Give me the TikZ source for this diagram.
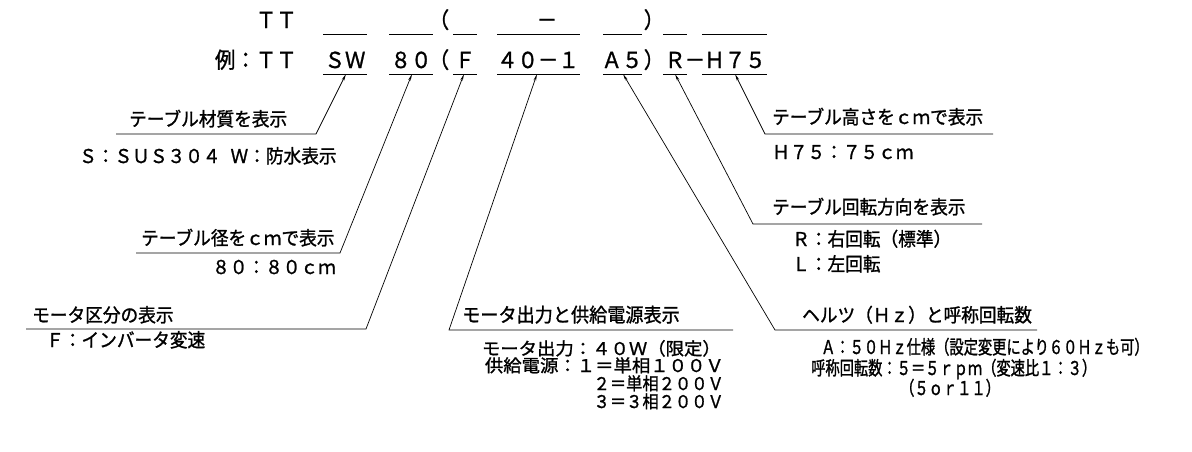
\documentclass[tikz,border=0pt]{standalone}
\usepackage{fontspec}
\setmainfont{Noto Sans CJK JP}[CharacterWidth=Full, FakeStretch=0.93, FakeBold=1.2]
\newfontfamily\narrowfont{Noto Sans CJK JP}[CharacterWidth=Full, FakeStretch=0.75, FakeBold=1.2]
\newfontfamily\widefont{Noto Sans CJK JP}[CharacterWidth=Full, FakeStretch=1.05, FakeBold=1.2]
\usetikzlibrary{positioning}
\usetikzlibrary{arrows.meta}

\begin{document}
\begin{tikzpicture}[x=1pt, y=-1pt,
    code/.style={inner sep=0pt, anchor=base, font=\fontsize{22}{24}\selectfont},
    txt/.style={inner sep=0pt, anchor=base west, font=\fontsize{19}{21}\selectfont},
    small/.style={inner sep=0pt, anchor=base east, font=\fontsize{17.5}{19}\selectfont},
    wide/.style={small, font=\widefont\fontsize{17.5}{19}\selectfont},
    thin/.style={inner sep=0pt, anchor=base west, font=\narrowfont\fontsize{19}{21}\selectfont},
    lead/.style={line width=0.7pt, -{Stealth[length=7pt, width=2.6pt]}},
    blank/.style={line width=0.7pt}]
    \useasboundingbox (0,0) rectangle (1192,451);

    % code pattern and example
    \node (tt) [code, anchor=base east] at (297,28) {TT};
    \node (lp) [code] at (439,28) {(};
    \node (dash) [code] at (547,28) {-};
    \node (rp) [code] at (654,28) {)};

    \node (ex) [code, anchor=base east] at (297,68) {例:TT};
    \node (sw) [code] at (345,68) {SW};
    \node (d80) [code] at (411,68) {80};
    \node (lp2) [code] at (439,68) {(};
    \node (f) [code] at (465,68) {F};
    \node (w40) [code] at (538,68) {40-1};
    \node (a5) [code] at (622,68) {A5};
    \node (rp2) [code] at (654,68) {)};
    \node (r) [code] at (675,68) {R};
    \node (dash2) [code] at (695,68) {-};
    \node (h75) [code] at (735,68) {H75};

    \foreach \a/\b in {323/367, 389/433, 453/477, 497/580, 603/642, 663/687, 702/767} {
        \draw [blank] (\a,34) -- (\b,34);
        \draw [blank] (\a,74) -- (\b,74);
    }

    \coordinate (tsw) at (346,74);
    \coordinate (t80) at (412,74);
    \coordinate (tf) at (464,74);
    \coordinate (t40) at (537,74);
    \coordinate (ta5) at (623,74);
    \coordinate (tr) at (675,74);
    \coordinate (th75) at (735,74);

    % left labels
    \node (mat) [txt] at (129,126) {テーブル材質を表示};
    \node (matv) [txt] at (79,163) {S:SUS304\hspace{10pt}W:防水表示};
    \coordinate (mat0) at (116,134);
    \coordinate (mat1) at (316,134);

    \node (dia) [txt] at (141,245) {テーブル径をcmで表示};
    \node (diav) [txt] at (212,274) {80:80cm};
    \coordinate (dia0) at (136,253);
    \coordinate (dia1) at (340,253);

    \node (mot) [txt] at (32,322) {モータ区分の表示};
    \node (motv) [txt] at (46,347) {F:インバータ変速};
    \coordinate (mot0) at (26,329);
    \coordinate (mot1) at (366,329);

    % middle labels
    \node (pw) [txt, font=\fontsize{19.5}{21}\selectfont] at (462,322) {モータ出力と供給電源表示};
    \node (pw1) [wide] at (721,355) {モータ出力:40W(限定)};
    \node (pw2) [wide] at (724,372) {供給電源:1=単相100V};
    \node (pw3) [small] at (724,390) {2=単相200V};
    \node (pw4) [small] at (724,408) {3=3相200V};
    \coordinate (pw0) at (733,330);
    \coordinate (pw1e) at (449,330);

    \node (hz) [txt] at (802,322) {ヘルツ(Hz)と呼称回転数};
    \node (hz1) [thin] at (821,354) {A:50Hz仕様(設定変更により60Hzも可)};
    \node (hz2) [thin] at (811,375) {呼称回転数:5=5rpm(変速比1:3)};
    \node (hz3) [thin] at (900,395) {(5or11)};
    \coordinate (hz0) at (1037,330);
    \coordinate (hz1e) at (775,330);

    % right labels
    \node (dir) [txt] at (772,214) {テーブル回転方向を表示};
    \node (dirr) [txt] at (792,246) {R:右回転(標準)};
    \node (dirl) [txt] at (792,271) {L:左回転};
    \coordinate (dir0) at (982,224);
    \coordinate (dir1) at (753,224);

    \node (hgt) [txt] at (772,124) {テーブル高さをcmで表示};
    \node (hgtv) [txt] at (772,159) {H75:75cm};
    \coordinate (hgt0) at (993,134);
    \coordinate (hgt1) at (765,134);

    \draw [lead] (mat0) -- (mat1) -- (tsw);
    \draw [lead] (dia0) -- (dia1) -- (t80);
    \draw [lead] (mot0) -- (mot1) -- (tf);
    \draw [lead] (pw0) -- (pw1e) -- (t40);
    \draw [lead] (hz0) -- (hz1e) -- (ta5);
    \draw [lead] (dir0) -- (dir1) -- (tr);
    \draw [lead] (hgt0) -- (hgt1) -- (th75);
\end{tikzpicture}
\end{document}
